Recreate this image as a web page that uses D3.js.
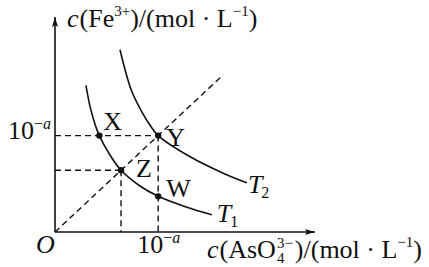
<!DOCTYPE html>
<html>
<head>
<meta charset="utf-8">
<script src="https://cdn.jsdelivr.net/npm/d3@7"></script>
<style>
  body { margin: 0; background: #fff; }
  text { font-family: "Liberation Serif", "Times New Roman", serif; fill: #111; }
</style>
</head>
<body>
<div id="chart"></div>
<script>
// values are in units of 10^-a mol/L
let t1Curve = [[0.30, 1.52], [0.34, 1.30], [0.39, 1.11], [0.43, 1.00], [0.52, 0.82],
               [0.64, 0.64], [0.82, 0.48], [1.00, 0.37], [1.27, 0.26], [1.52, 0.18]];
let t2Curve = [[0.63, 1.89], [0.74, 1.47], [0.85, 1.23], [0.92, 1.11], [1.00, 1.00],
               [1.31, 0.78], [1.63, 0.61], [1.86, 0.51]];
let diagonal = [[0, 0], [1.63, 1.63]];
let pointNames = ["X", "Y", "Z", "W"];
let pointX = [0.43, 1.00, 0.64, 1.00];
let pointY = [1.00, 1.00, 0.64, 0.37];
let guidePoints = ["Y", "Z"];   // dashed drop lines to both axes
let tickValue = 1;              // 10^-a

let svgWidth = 429;
let svgHeight = 267;
let fontSize = 26;
let titleSize = 26;

let svg = d3.select("#chart")
  .append("svg")
  .attr("width", svgWidth)
  .attr("height", svgHeight);

let xScale = d3.scaleLinear().domain([0, 2.52]).range([55, 315]);
let yScale = d3.scaleLinear().domain([0, 2.23]).range([232, 17]);

// arrow head for the axes
svg.append("defs").append("marker")
  .attr("id", "arrow")
  .attr("viewBox", "0 -4 10 8")
  .attr("refX", 10)
  .attr("refY", 0)
  .attr("markerUnits", "userSpaceOnUse")
  .attr("markerWidth", 10)
  .attr("markerHeight", 8)
  .attr("orient", "auto")
  .append("path")
  .attr("d", "M0,-3L10,0L0,3L2,0Z")
  .attr("fill", "#111");

// helper: lay out text pieces one after another
function richText(g, x, y, parts, size) {
  let cx = x;
  parts.forEach(function(p) {
    let t = g.append("text")
      .attr("x", cx)
      .attr("y", y + (p.dy || 0))
      .attr("font-size", p.size || size)
      .attr("font-style", p.i ? "italic" : "normal")
      .text(p.t);
    let w = t.node().getComputedTextLength();
    if (!p.stack) cx += w + (p.gap || 0);
  });
}

let points = pointNames.map((n, i) => ({name: n, x: pointX[i], y: pointY[i]}));

// dashed guides
let guides = [];
points.filter(p => guidePoints.includes(p.name)).forEach(function(p) {
  guides.push([[0, p.y], [p.x, p.y]]);
  guides.push([[p.x, p.y], [p.x, 0]]);
});
guides.push(diagonal);

let line = d3.line()
  .x(d => xScale(d[0]))
  .y(d => yScale(d[1]));

svg.selectAll(".guide")
  .data(guides)
  .enter()
  .append("path")
  .attr("class", "guide")
  .attr("d", line)
  .attr("fill", "none")
  .attr("stroke", "#111")
  .attr("stroke-width", 1.4)
  .attr("stroke-dasharray", "6,4");

// curves
let curve = d3.line()
  .x(d => xScale(d[0]))
  .y(d => yScale(d[1]))
  .curve(d3.curveCatmullRom.alpha(0.5));

svg.selectAll(".curve")
  .data([t1Curve, t2Curve])
  .enter()
  .append("path")
  .attr("class", "curve")
  .attr("d", curve)
  .attr("fill", "none")
  .attr("stroke", "#111")
  .attr("stroke-width", 1.6);

// axis lines with arrows
svg.append("line")
  .attr("x1", xScale(0)).attr("y1", yScale(0))
  .attr("x2", xScale.range()[1]).attr("y2", yScale(0))
  .attr("stroke", "#111").attr("stroke-width", 1.6)
  .attr("marker-end", "url(#arrow)");
svg.append("line")
  .attr("x1", xScale(0)).attr("y1", yScale(0))
  .attr("x2", xScale(0)).attr("y2", yScale.range()[1])
  .attr("stroke", "#111").attr("stroke-width", 1.6)
  .attr("marker-end", "url(#arrow)");

// tick labels 10^-a via the axes
let xAxis = svg.append("g")
  .attr("transform", `translate(0, ${yScale(0)})`)
  .call(d3.axisBottom(xScale).tickValues([tickValue]).tickSize(0).tickFormat(() => "10"));
let yAxis = svg.append("g")
  .attr("transform", `translate(${xScale(0)}, 0)`)
  .call(d3.axisLeft(yScale).tickValues([tickValue]).tickSize(0).tickFormat(() => "10"));

[xAxis, yAxis].forEach(function(ax) {
  ax.attr("font-family", null).attr("font-size", null);
  ax.select(".domain").remove();
  let txt = ax.select(".tick text")
    .attr("font-size", fontSize)
    .attr("fill", "#111");
  txt.append("tspan").attr("font-size", 16).attr("dy", -10).text("−");
  txt.append("tspan").attr("font-size", 16).attr("font-style", "italic").text("a");
});
xAxis.select(".tick text").attr("y", 21).attr("dy", 0).attr("text-anchor", "middle");
yAxis.select(".tick text").attr("x", -4).attr("dy", 3).attr("text-anchor", "end");

// origin
svg.append("text")
  .attr("x", xScale(0) - 19)
  .attr("y", yScale(0) + 21)
  .attr("font-size", fontSize)
  .attr("font-style", "italic")
  .text("O");

// points
svg.selectAll(".pt")
  .data(points)
  .enter()
  .append("circle")
  .attr("class", "pt")
  .attr("cx", d => xScale(d.x))
  .attr("cy", d => yScale(d.y))
  .attr("r", 3.2)
  .attr("fill", "#111");

let labelOffset = {X: [4, -6], Y: [8, 10], Z: [15, 7], W: [8, 1]};
svg.selectAll(".pt-label")
  .data(points)
  .enter()
  .append("text")
  .attr("class", "pt-label")
  .attr("x", d => xScale(d.x) + labelOffset[d.name][0])
  .attr("y", d => yScale(d.y) + labelOffset[d.name][1])
  .attr("font-size", fontSize)
  .text(d => d.name);

// curve names
let t1End = t1Curve[t1Curve.length - 1];
let t2End = t2Curve[t2Curve.length - 1];
richText(svg, xScale(t1End[0]) + 5, yScale(t1End[1]) + 7, [{t: "T", i: 1, gap: -1}, {t: "1", size: 16, dy: 5}], fontSize);
richText(svg, xScale(t2End[0]) + 1, yScale(t2End[1]) + 10, [{t: "T", i: 1, gap: -1}, {t: "2", size: 16, dy: 5}], fontSize);

// axis titles
richText(svg, 67, 27, [
  {t: "c", i: 1, gap: 1}, {t: "(Fe"}, {t: "3+", size: 15, dy: -11},
  {t: ")/(mol · L"}, {t: "−1", size: 15, dy: -11}, {t: ")"}
], titleSize);
richText(svg, 207, 258, [
  {t: "c", i: 1, gap: 1}, {t: "(AsO", gap: 1}, {t: "4", size: 15, dy: 5, stack: true},
  {t: "3−", size: 15, dy: -10, gap: 2}, {t: ")/(mol · L"}, {t: "−1", size: 15, dy: -11}, {t: ")"}
], titleSize);
</script>
</body>
</html>
